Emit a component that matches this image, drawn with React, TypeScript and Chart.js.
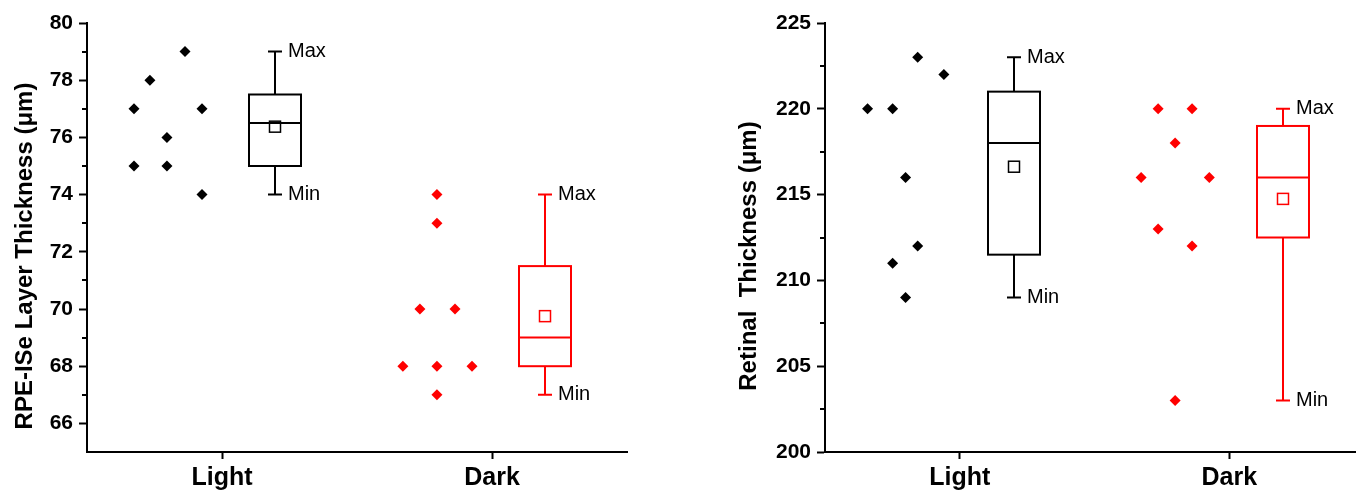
import { useEffect, useRef } from 'react';
import { Chart, registerables } from 'chart.js';

Chart.register(...registerables);

// ---------- shared ----------
const categories = ['Light', 'Dark'];
const categoryPositions = [1, 2];
const maxLabel = 'Max';
const minLabel = 'Min';

// ---------- Panel A: RPE-ISe layer thickness ----------
const rpeTitle = 'RPE-ISe Layer Thickness (\u03bcm)';
const rpeYTicks = [66, 68, 70, 72, 74, 76, 78, 80];
const rpeYMinorTicks = [67, 69, 71, 73, 75, 77, 79];
const rpeYMin = 65;
const rpeYMax = 80;

const rpeLightX = [0.674, 0.674, 0.733, 0.796, 0.796, 0.863, 0.926, 0.926];
const rpeLightY = [75, 77, 78, 75, 76, 79, 77, 74];
const rpeDarkX = [1.67, 1.733, 1.796, 1.796, 1.796, 1.796, 1.863, 1.926];
const rpeDarkY = [68, 70, 74, 73, 68, 67, 70, 68];

const rpeBoxX = [1.196, 2.196];
const rpeQ1 = [75, 68];
const rpeQ3 = [77.5, 71.5];
const rpeMedian = [76.5, 69];
const rpeMin = [74, 67];
const rpeMax = [79, 74];
const rpeMean = [76.375, 69.75];

// ---------- Panel B: Retinal thickness ----------
const retTitle = 'Retinal  Thickness (\u03bcm)';
const retYTicks = [200, 205, 210, 215, 220, 225];
const retYMinorTicks = [202.5, 207.5, 212.5, 217.5, 222.5];
const retYMin = 200;
const retYMax = 225;

const retLightX = [0.658, 0.751, 0.751, 0.799, 0.799, 0.844, 0.844, 0.941];
const retLightY = [220, 220, 211, 216, 209, 223, 212, 222];
const retDarkX = [1.673, 1.736, 1.736, 1.799, 1.799, 1.862, 1.862, 1.926];
const retDarkY = [216, 220, 213, 218, 203, 220, 212, 216];

const retBoxX = [1.2, 2.2];
const retQ1 = [211.5, 212.5];
const retQ3 = [221, 219];
const retMedian = [218, 216];
const retMin = [209, 203];
const retMax = [223, 220];
const retMean = [216.625, 214.75];

// ---------- styling ----------
const FONT = '"Liberation Sans", Arial, Helvetica, sans-serif';
const groupColors = ['#000000', '#ff0000'];

const boxPlugin = {
  id: 'boxplot',
  afterDatasetsDraw(chart: any, _args: any, opts: any) {
    const { ctx } = chart;
    const xs = chart.scales.x;
    const ys = chart.scales.y;
    const hw = 26;
    const cap = 7;
    (opts.boxes || []).forEach((b: any) => {
      const cx = Math.round(xs.getPixelForValue(b.x));
      const yq1 = ys.getPixelForValue(b.q1);
      const yq3 = ys.getPixelForValue(b.q3);
      const ymed = ys.getPixelForValue(b.median);
      const ymin = ys.getPixelForValue(b.min);
      const ymax = ys.getPixelForValue(b.max);
      const ymean = ys.getPixelForValue(b.mean);
      ctx.save();
      ctx.strokeStyle = b.color;
      ctx.lineWidth = 2;
      ctx.lineCap = 'butt';
      ctx.strokeRect(cx - hw, yq3, 2 * hw, yq1 - yq3);
      ctx.beginPath();
      ctx.moveTo(cx - hw, ymed);
      ctx.lineTo(cx + hw, ymed);
      ctx.moveTo(cx, yq3);
      ctx.lineTo(cx, ymax);
      ctx.moveTo(cx, yq1);
      ctx.lineTo(cx, ymin);
      ctx.moveTo(cx - cap, ymax);
      ctx.lineTo(cx + cap, ymax);
      ctx.moveTo(cx - cap, ymin);
      ctx.lineTo(cx + cap, ymin);
      ctx.stroke();
      ctx.lineWidth = 1.5;
      ctx.strokeRect(cx - 5.5, ymean - 5.5, 11, 11);
      ctx.fillStyle = '#000';
      ctx.font = `20px ${FONT}`;
      ctx.textAlign = 'left';
      ctx.textBaseline = 'middle';
      ctx.fillText(maxLabel, cx + cap + 6, ymax);
      ctx.fillText(minLabel, cx + cap + 6, ymin);
      ctx.restore();
    });
  },
};

const minorTickPlugin = {
  id: 'minorTicks',
  afterDraw(chart: any, _args: any, opts: any) {
    const { ctx } = chart;
    const ys = chart.scales.y;
    const x0 = chart.chartArea.left;
    ctx.save();
    ctx.strokeStyle = '#000';
    ctx.lineWidth = 2;
    ctx.beginPath();
    (opts.values || []).forEach((v: number) => {
      const y = Math.round(ys.getPixelForValue(v));
      ctx.moveTo(x0 - 5, y);
      ctx.lineTo(x0, y);
    });
    ctx.stroke();
    ctx.restore();
  },
};

const titlePlugin = {
  id: 'yTitle',
  afterDraw(chart: any, _args: any, opts: any) {
    const { ctx } = chart;
    ctx.save();
    ctx.translate(opts.x, opts.y);
    ctx.rotate(-Math.PI / 2);
    ctx.fillStyle = '#000';
    ctx.font = `bold 24px ${FONT}`;
    ctx.textAlign = 'center';
    ctx.textBaseline = 'alphabetic';
    ctx.fillText(opts.text, 0, 0);
    ctx.restore();
  },
};

interface PanelProps {
  lightX: number[];
  lightY: number[];
  darkX: number[];
  darkY: number[];
  boxX: number[];
  q1: number[];
  q3: number[];
  median: number[];
  min: number[];
  max: number[];
  mean: number[];
  yMin: number;
  yMax: number;
  xMax: number;
  yTicks: number[];
  yMinor: number[];
  title: string;
  titleX: number;
  axisWidth: number;
  padRight: number;
  width: number;
}

function Panel(p: PanelProps) {
  const ref = useRef<HTMLCanvasElement | null>(null);
  useEffect(() => {
    if (!ref.current) return;
    const toPts = (xs: number[], ys: number[]) => xs.map((x, i) => ({ x, y: ys[i] }));
    const boxes = p.boxX.map((x, i) => ({
      x,
      q1: p.q1[i],
      q3: p.q3[i],
      median: p.median[i],
      min: p.min[i],
      max: p.max[i],
      mean: p.mean[i],
      color: groupColors[i],
    }));
    const chart = new Chart(ref.current, {
      type: 'scatter',
      data: {
        datasets: [
          {
            label: categories[0],
            data: toPts(p.lightX, p.lightY),
            pointStyle: 'rectRot',
            pointRadius: 5.5,
            pointBorderWidth: 0,
            backgroundColor: groupColors[0],
            borderColor: groupColors[0],
          },
          {
            label: categories[1],
            data: toPts(p.darkX, p.darkY),
            pointStyle: 'rectRot',
            pointRadius: 5.5,
            pointBorderWidth: 0,
            backgroundColor: groupColors[1],
            borderColor: groupColors[1],
          },
        ],
      },
      options: {
        animation: false,
        responsive: false,
        maintainAspectRatio: false,
        layout: { padding: { top: 23, right: p.padRight, bottom: 0, left: 0 } },
        plugins: {
          legend: { display: false },
          tooltip: { enabled: false },
          boxplot: { boxes },
          minorTicks: { values: p.yMinor },
          yTitle: { text: p.title, x: p.titleX, y: 256 },
        } as any,
        scales: {
          x: {
            type: 'linear',
            min: 0.5,
            max: p.xMax,
            afterBuildTicks: (s: any) => {
              s.ticks = categoryPositions.map((v) => ({ value: v }));
            },
            afterFit: (s: any) => {
              s.height = 39;
            },
            ticks: {
              autoSkip: false,
              maxRotation: 0,
              padding: 4,
              color: '#000',
              font: { family: FONT, size: 25, weight: 'bold' },
              callback: (v: any) => {
                const idx = categoryPositions.indexOf(Number(v));
                return idx >= 0 ? categories[idx] : '';
              },
            },
            grid: {
              drawOnChartArea: false,
              drawTicks: true,
              tickLength: 7,
              tickWidth: 2,
              tickColor: '#000',
            },
            border: { display: true, color: '#000', width: 2 },
          },
          y: {
            type: 'linear',
            min: p.yMin,
            max: p.yMax,
            afterBuildTicks: (s: any) => {
              s.ticks = p.yTicks.map((v) => ({ value: v }));
            },
            afterFit: (s: any) => {
              s.width = p.axisWidth;
            },
            ticks: {
              autoSkip: false,
              padding: 6,
              color: '#000',
              font: { family: FONT, size: 21, weight: 'bold' },
            },
            grid: {
              drawOnChartArea: false,
              drawTicks: true,
              tickLength: 8,
              tickWidth: 2,
              tickColor: '#000',
            },
            border: { display: true, color: '#000', width: 2 },
          },
        },
      },
      plugins: [boxPlugin, minorTickPlugin, titlePlugin],
    });
    return () => chart.destroy();
  }, []);
  return (
    <canvas
      ref={ref}
      width={p.width}
      height={491}
      style={{ width: p.width, height: 491, display: 'block', flex: 'none' }}
    />
  );
}

export default function App() {
  return (
    <div
      style={{
        position: 'fixed',
        left: 0,
        top: 0,
        width: 1356,
        height: 491,
        background: '#fff',
        display: 'flex',
        overflow: 'hidden',
      }}
    >
      <Panel
        lightX={rpeLightX}
        lightY={rpeLightY}
        darkX={rpeDarkX}
        darkY={rpeDarkY}
        boxX={rpeBoxX}
        q1={rpeQ1}
        q3={rpeQ3}
        median={rpeMedian}
        min={rpeMin}
        max={rpeMax}
        mean={rpeMean}
        yMin={rpeYMin}
        yMax={rpeYMax}
        xMax={2.5}
        yTicks={rpeYTicks}
        yMinor={rpeYMinorTicks}
        title={rpeTitle}
        titleX={32}
        axisWidth={87}
        padRight={51}
        width={678}
      />
      <Panel
        lightX={retLightX}
        lightY={retLightY}
        darkX={retDarkX}
        darkY={retDarkY}
        boxX={retBoxX}
        q1={retQ1}
        q3={retQ3}
        median={retMedian}
        min={retMin}
        max={retMax}
        mean={retMean}
        yMin={retYMin}
        yMax={retYMax}
        xMax={2.472}
        yTicks={retYTicks}
        yMinor={retYMinorTicks}
        title={retTitle}
        titleX={78}
        axisWidth={147}
        padRight={0}
        width={684}
      />
    </div>
  );
}
